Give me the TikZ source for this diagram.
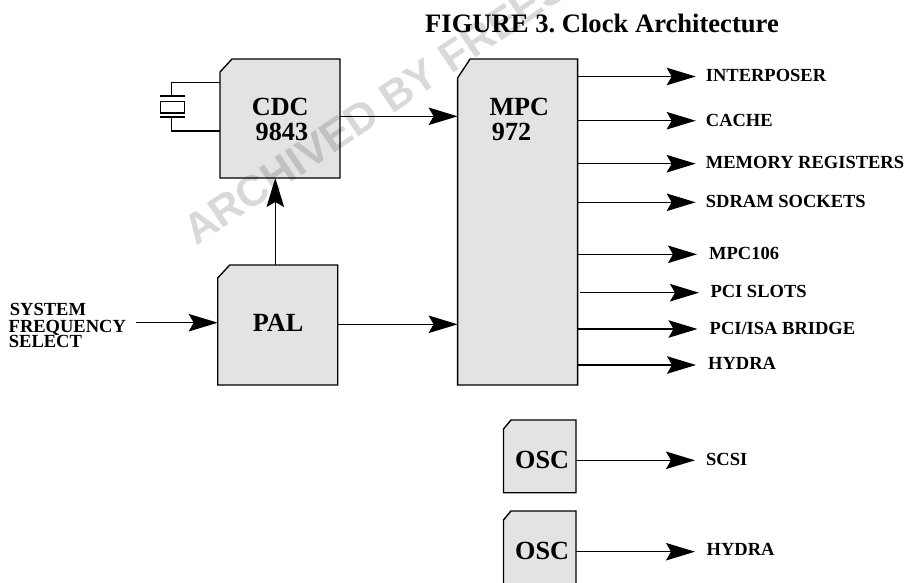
\documentclass[tikz,border=0pt]{standalone}
\usepackage{fontspec}
\setmainfont{Liberation Serif}
\newfontfamily\wmfont{Liberation Sans}
\usetikzlibrary{arrows.meta}
\definecolor{chipgrey}{gray}{0.89}
\tikzset{
  chip/.style={rectangle, inner sep=0pt, outer sep=0pt, anchor=center},
  chipline/.style={draw=black, fill=chipgrey, line width=1.35pt, line join=miter},
  wire/.style={line width=1.35pt, black},
  sig/.style={wire, -{Stealth[length=29pt,width=17.5pt,inset=5pt]}},
  big/.style={font=\fontsize{26.2}{26.2}\selectfont\bfseries, anchor=base west, inner sep=0pt},
  sml/.style={font=\fontsize{18.5}{18.5}\selectfont\bfseries, anchor=base west, inner sep=0pt},
  ttl/.style={font=\fontsize{26.6}{26.6}\selectfont\bfseries, anchor=base west, inner sep=0pt}
}
\newcommand{\chipoutline}[3]{%
  \path[chipline] ([xshift=#2pt]#1.north west) -- (#1.north east) -- (#1.south east)
    -- (#1.south west) -- ([yshift=-#3pt]#1.north west) -- cycle;}
\frenchspacing
\begin{document}
\begin{tikzpicture}[x=1pt,y=-1pt]
\useasboundingbox (0,0) rectangle (906,582);
\clip (0,0) rectangle (906,582);
% chips
\node[chip, minimum width=120pt, minimum height=119pt] (cdc) at (280,118.5) {};
\node[chip, minimum width=120pt, minimum height=120pt] (pal) at (277.7,325) {};
\node[chip, minimum width=120pt, minimum height=326pt] (mpc) at (517.6,222) {};
\node[chip, minimum width=72.5pt, minimum height=72.7pt] (osca) at (539.7,456.4) {};
\node[chip, minimum width=72.5pt, minimum height=90pt] (oscb) at (539.7,556) {};
\chipoutline{cdc}{12}{13}
\chipoutline{pal}{12}{13}
\chipoutline{mpc}{12.5}{19}
\chipoutline{osca}{7.5}{9}
\chipoutline{oscb}{7.5}{9}
% watermark
\node[font=\wmfont\fontsize{43}{43}\selectfont\bfseries, text=black, opacity=0.15, rotate=34, anchor=base west, inner sep=0pt] (wm) at (196,247) {ARCHIVED BY FREESCALE};
% connectors
\coordinate (a0) at (135.7,322.7);
\draw[sig] (a0) -- (pal.west |- a0);
\draw[sig] (pal.north) ++(-2.4,0) coordinate (a1) -- (a1 |- cdc.south);
\coordinate (a2) at (300,116.3);
\draw[sig] (cdc.east |- a2) -- (mpc.west |- a2);
\coordinate (a3) at (300,324.3);
\draw[sig] (pal.east |- a3) -- (mpc.west |- a3);
\foreach \nm/\yy/\xs/\xe/\lx/\ly/\txt in {
  o1/76.5/0/695.7/705.7/81/INTERPOSER,
  o2/120.7/0/695.7/705.7/126/CACHE,
  o3/163.7/0/695.7/705.7/168.3/MEMORY REGISTERS,
  o4/202.3/0/695.7/705.7/207/SDRAM SOCKETS,
  o5/254.3/0/697/709/259/MPC106,
  o6/292.7/2/699/710.3/297.3/PCI SLOTS,
  o7/329/0/697.5/709.5/334/{PCI/ISA BRIDGE},
  o8/365/0/696/708/369/HYDRA}{
  \coordinate (\nm) at (\xe,\yy);
  \draw[sig] ([xshift=\xs pt]mpc.east |- \nm) -- (\nm);
  \node[sml] (t\nm) at (\lx,\ly) {\txt};
}
\coordinate (o9) at (695,460.3);
\draw[sig] (osca.east |- o9) -- (o9);
\coordinate (o10) at (695,551.7);
\draw[sig] (oscb.east |- o10) -- (o10);
% crystal
\coordinate (xt) at (171.5,82.5);
\coordinate (xb) at (171.5,131);
\coordinate (pt) at (171.5,96);
\coordinate (pb) at (171.5,117);
\draw[wire] (cdc.west |- xt) -- (xt) -- (pt);
\draw[wire] (cdc.west |- xb) -- (xb) -- (pb);
\draw[wire] (160,96) -- (185,96);
\draw[wire] (160,117) -- (185,117);
\draw[wire] (160.5,101.5) rectangle (184.5,113);
% texts
\node[ttl] (title) at (425,32) {FIGURE 3. Clock Architecture};
\node[big] (tcdc) at (251.7,115.7) {CDC};
\node[big,anchor=base east] (t9843) at (308.3,140) {9843};
\node[big] (tmpc) at (489.3,115.7) {MPC};
\node[big] (t972) at (491.7,140) {972};
\node[big,anchor=base] (tpal) at (278,331.7) {PAL};
\node[big] (tosca) at (515,468.3) {OSC};
\node[big] (toscb) at (515,559.3) {OSC};
\node[sml] (s1) at (9.7,315.7) {SYSTEM};
\node[sml] (s2) at (8.5,332) {FREQUENCY};
\node[sml] (s3) at (8.7,347.7) {SELECT};
\node[sml] (scsi) at (706,465) {SCSI};
\node[sml] (hyd) at (706.5,555.7) {HYDRA};
\end{tikzpicture}
\end{document}
